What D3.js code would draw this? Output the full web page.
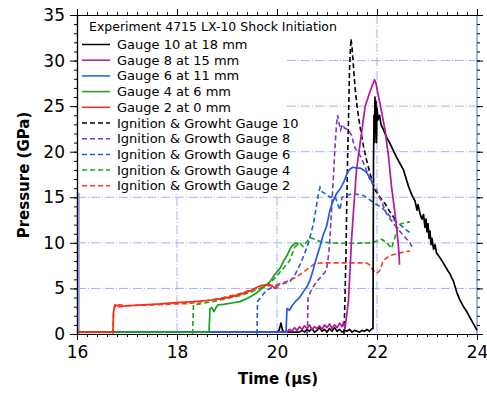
<!DOCTYPE html>
<html><head><meta charset="utf-8">
<script src="https://cdn.jsdelivr.net/npm/d3@7"></script>
<style>body{margin:0;background:#fff} svg{display:block}</style>
</head><body><svg id="c" width="487" height="393"></svg>
<script>
// ---------- data ----------
const xTicks = [16, 18, 20, 22, 24];
const yTicks = [0, 5, 10, 15, 20, 25, 30, 35];
const titleText = "Experiment 4715 LX-10 Shock Initiation";
const seriesNames = ["Gauge 10 at 18 mm", "Gauge 8 at 15 mm", "Gauge 6 at 11 mm", "Gauge 4 at 6 mm", "Gauge 2 at 0 mm",
  "Ignition & Growht Gauge 10", "Ignition & Growth Gauge 8", "Ignition & Growth Gauge 6", "Ignition & Growth Gauge 4", "Ignition & Growth Gauge 2"];

// Gauge 10 (measured)
const g10T = [16, 20.0, 20.04, 20.08, 20.11, 20.15, 20.45, 20.5, 20.55, 20.6, 20.65, 20.7, 20.75, 20.8, 20.85, 20.9, 20.95, 21.0, 21.05, 21.1, 21.15, 21.2, 21.25, 21.3, 21.35, 21.4, 21.45, 21.5, 21.55, 21.6, 21.65, 21.7, 21.75, 21.8, 21.85, 21.9, 21.92, 21.93, 21.94, 21.95, 21.96, 21.97, 21.98, 21.99, 22.0, 22.02, 22.05, 22.08, 22.13, 22.2, 22.26, 22.33, 22.39, 22.46, 22.53, 22.58, 22.63, 22.7, 22.76, 22.8, 22.82, 22.86, 22.9, 22.93, 22.96, 22.98, 23.0, 23.02, 23.04, 23.06, 23.08, 23.1, 23.13, 23.16, 23.19, 23.23, 23.28, 23.33, 23.38, 23.42, 23.46, 23.5, 23.53, 23.56, 23.6, 23.63, 23.66, 23.7, 23.74, 23.79, 23.84, 23.89, 23.94, 23.98, 24.0];
const g10P = [0.2, 0.2, 0.4, 1.2, 0.4, 0.2, 0.2, 0.4, 0.2, 0.5, 0.3, 0.6, 0.2, 0.4, 0.7, 0.3, 0.5, 0.2, 0.6, 0.3, 0.7, 0.3, 0.5, 0.2, 0.4, 0.3, 0.5, 0.2, 0.4, 0.3, 0.2, 0.4, 0.3, 0.5, 0.3, 0.6, 0.6, 19, 24, 21, 26, 22, 25.5, 21, 24.8, 23.5, 24, 23, 22.4, 21.5, 20.9, 20.1, 19.4, 18.7, 18.0, 17.1, 16.2, 15.2, 14.6, 13.6, 14.2, 13.2, 12.6, 13.1, 11.7, 12.6, 11.2, 12.1, 10.5, 11.3, 9.8, 10.5, 9.3, 9.8, 8.9, 8.6, 8.2, 7.75, 7.3, 6.9, 6.6, 6.1, 5.8, 5.2, 4.5, 4.1, 3.7, 3.3, 2.9, 2.5, 2.0, 1.5, 1.0, 0.6, 0.4];
// Gauge 8 (measured)
const g8T = [16, 20.2, 20.25, 20.3, 20.35, 20.4, 20.45, 20.5, 20.55, 20.6, 20.65, 20.7, 20.75, 20.8, 20.85, 20.9, 20.95, 21.0, 21.05, 21.1, 21.15, 21.2, 21.25, 21.3, 21.33, 21.36, 21.39, 21.43, 21.46, 21.49, 21.53, 21.59, 21.69, 21.76, 21.86, 21.95, 21.98, 22.02, 22.06, 22.16, 22.23, 22.29, 22.36, 22.41, 22.44, 22.45];
const g8P = [0.2, 0.2, 0.5, 0.3, 0.7, 0.4, 0.8, 0.5, 0.9, 0.6, 1.0, 0.5, 0.8, 0.6, 0.9, 0.5, 1.0, 0.7, 1.1, 0.6, 1.0, 0.7, 1.2, 0.8, 1.3, 0.6, 1.9, 3.7, 7.0, 10.3, 13.5, 18.0, 22.0, 24.9, 26.6, 27.9, 27.5, 26.3, 25.3, 22.4, 19.5, 16.2, 13.2, 10.7, 8.9, 7.6];
// Gauge 6 (measured)
const g6T = [16, 20.18, 20.2, 20.25, 20.3, 20.39, 20.45, 20.53, 20.6, 20.66, 20.72, 20.79, 20.86, 20.92, 20.99, 21.06, 21.13, 21.19, 21.26, 21.33, 21.4, 21.46, 21.52, 21.59, 21.66, 21.73, 21.79, 21.83, 21.88, 21.93];
const g6P = [0.2, 0.2, 2.8, 2.6, 3.1, 3.7, 4.0, 4.65, 5.2, 5.9, 7.0, 8.4, 9.6, 10.8, 11.8, 13.6, 14.7, 15.4, 15.9, 16.6, 17.6, 18.1, 18.3, 18.2, 18.2, 18.0, 17.7, 17.4, 16.9, 16.4];
// Gauge 4 (measured)
const g4T = [16, 18.64, 18.66, 18.7, 18.74, 18.78, 18.82, 18.93, 19.1, 19.26, 19.4, 19.5, 19.59, 19.7, 19.79, 19.86, 19.95, 20.06, 20.13, 20.19, 20.25, 20.29, 20.35, 20.4, 20.43];
const g4P = [0.2, 0.2, 2.8, 2.9, 2.45, 2.9, 3.2, 3.25, 3.4, 3.55, 3.9, 4.2, 4.5, 5.0, 5.4, 5.75, 6.5, 7.2, 8.0, 8.5, 9.2, 9.6, 9.9, 10.0, 9.8];
// Gauge 2 (measured)
const g2T = [16, 16.72, 16.73, 16.76, 16.85, 17.0, 17.33, 17.66, 18.0, 18.33, 18.66, 18.93, 19.1, 19.26, 19.45, 19.59, 19.69, 19.78, 19.86, 19.92, 19.96, 20.0, 20.03];
const g2P = [0.2, 0.2, 2.45, 3.2, 3.0, 3.1, 3.2, 3.3, 3.45, 3.55, 3.7, 3.9, 4.1, 4.35, 4.7, 5.1, 5.35, 5.4, 5.4, 5.2, 5.0, 5.1, 5.1];

// Ignition & Growth model
const ig10T = [21.34, 21.36, 21.38, 21.39, 21.41, 21.43, 21.45, 21.48, 21.5, 21.52, 21.56, 21.6, 21.66, 21.73, 21.79, 21.86, 21.96, 22.06, 22.16, 22.26, 22.36, 22.43];
const ig10P = [0, 4, 9, 12.5, 18.7, 23.5, 29, 32.4, 31.5, 30, 27.1, 25, 22.75, 20.6, 19.1, 17.6, 15.8, 15.0, 14.3, 13.4, 12.6, 12.5];
const ig8T = [20.6, 20.61, 20.62, 20.7, 20.8, 20.9, 20.99, 21.04, 21.08, 21.12, 21.16, 21.19, 21.21, 21.24, 21.27, 21.31, 21.35, 21.43, 21.49, 21.56, 21.66, 21.76, 21.86, 21.99, 22.09, 22.19, 22.33, 22.49, 22.66, 22.7];
const ig8P = [0, 0.5, 4.0, 5.0, 5.8, 6.4, 7.0, 9.0, 12.5, 16.5, 20.5, 23.0, 24.0, 23.2, 22.4, 23.0, 22.6, 22.4, 21.8, 20.4, 19.6, 18.4, 16.9, 15.8, 14.5, 13.2, 12.1, 11.05, 10.0, 9.6];
const ig6T = [19.6, 19.61, 19.7, 19.79, 19.9, 20.06, 20.26, 20.36, 20.46, 20.55, 20.63, 20.73, 20.83, 20.86, 20.9, 20.96, 21.06, 21.16, 21.22, 21.26, 21.3, 21.36, 21.53, 21.63, 21.73, 21.86, 21.96, 22.06, 22.19, 22.29, 22.46, 22.59, 22.69];
const ig6P = [0, 3.55, 4.2, 4.8, 5.1, 5.4, 5.75, 6.5, 7.6, 8.8, 10.0, 12.1, 15.4, 16.1, 15.6, 15.4, 15.0, 15.1, 14.2, 13.6, 15.0, 15.2, 15.4, 15.3, 15.2, 14.7, 14.3, 14.0, 13.4, 12.7, 12.0, 11.4, 11.0];
const ig4T = [18.31, 18.33, 18.5, 18.75, 19.0, 19.25, 19.5, 19.7, 19.85, 19.99, 20.06, 20.16, 20.26, 20.36, 20.46, 20.52, 20.58, 20.66, 20.79, 20.9, 21.06, 21.3, 21.6, 21.86, 22.0, 22.09, 22.2, 22.29, 22.36, 22.43, 22.55, 22.66];
const ig4P = [0, 3.2, 3.35, 3.6, 3.9, 4.2, 4.65, 5.1, 5.6, 6.3, 6.8, 7.4, 8.1, 9.6, 9.95, 9.6, 10.0, 10.6, 10.3, 10.1, 10.0, 9.95, 9.95, 10.0, 10.2, 10.4, 10.0, 9.4, 10.6, 12.0, 12.2, 12.3];
const ig2T = [16.72, 16.73, 16.78, 17.0, 17.5, 18.0, 18.26, 18.6, 18.93, 19.26, 19.59, 19.8, 19.99, 20.26, 20.4, 20.53, 20.65, 20.76, 20.9, 21.26, 21.6, 21.79, 21.85, 21.92, 21.99, 22.05, 22.13, 22.26, 22.45, 22.66];
const ig2P = [0, 2.6, 3.25, 3.1, 3.2, 3.3, 3.35, 3.65, 4.0, 4.45, 5.0, 5.25, 5.4, 5.9, 6.3, 6.8, 7.3, 7.75, 7.8, 7.8, 7.8, 7.8, 7.6, 7.0, 6.65, 6.9, 8.1, 8.6, 8.9, 9.1];

// ---------- chart ----------
const svg = d3.select("#c");
const x = d3.scaleLinear().domain([16, 24]).range([77, 477]);
const y = d3.scaleLinear().domain([0, 35]).range([334, 15]);
const gridCol = "#a9b0f6";
const font = "'DejaVu Sans', Verdana, sans-serif";

// grid
const grid = svg.append("g").attr("stroke", gridCol).attr("stroke-width", 1).attr("stroke-dasharray", "9,2,1,2");
[18, 20, 22].forEach(v => grid.append("line").attr("x1", x(v)).attr("x2", x(v)).attr("y1", y(35)).attr("y2", y(0)));
[5, 10, 15, 20, 25, 30].forEach(v => grid.append("line").attr("x1", x(16)).attr("x2", x(24)).attr("y1", y(v)).attr("y2", y(v)));
svg.append("line").attr("x1", x(16) + 2).attr("x2", x(16) + 2).attr("y1", y(35)).attr("y2", y(0)).attr("stroke", gridCol).attr("stroke-width", 2);
svg.append("line").attr("x1", x(24)).attr("x2", x(24)).attr("y1", y(35)).attr("y2", y(0)).attr("stroke", gridCol).attr("stroke-width", 2);

// legend background
svg.append("rect").attr("x", x(16) + 1).attr("y", y(35) + 1).attr("width", 207).attr("height", 177).attr("fill", "#fff");

// series
const solidSeries = [
  {t: g10T, p: g10P, c: "#000000"},
  {t: g8T, p: g8P, c: "#b5189c"},
  {t: g6T, p: g6P, c: "#1c5ee8"},
  {t: g4T, p: g4P, c: "#1aa31a"},
  {t: g2T, p: g2P, c: "#ff2a10"}
];
const dashSeries = [
  {t: ig10T, p: ig10P, c: "#000000"},
  {t: ig8T, p: ig8P, c: "#7b35c9"},
  {t: ig6T, p: ig6P, c: "#1c5ee8"},
  {t: ig4T, p: ig4P, c: "#1aa31a"},
  {t: ig2T, p: ig2P, c: "#ff3a1a"}
];
const line = d3.line().x(d => x(d[0])).y(d => y(d[1]));
const plot = svg.append("g");
dashSeries.forEach(s => {
  plot.append("path").attr("d", line(s.t.map((v, i) => [v, s.p[i]])))
    .attr("fill", "none").attr("stroke", s.c).attr("stroke-width", 1.6).attr("stroke-dasharray", "5,3");
});
solidSeries.forEach(s => {
  plot.append("path").attr("d", line(s.t.map((v, i) => [v, s.p[i]])))
    .attr("fill", "none").attr("stroke", s.c).attr("stroke-width", 1.7).attr("stroke-linejoin", "round");
});

// axes
function styleAxis(g, labels) {
  g.select(".domain").attr("stroke", "#000").attr("stroke-width", 1.2);
  g.selectAll(".tick line").attr("stroke", "#000");
  if (labels) g.selectAll(".tick text").attr("font-family", font).attr("font-size", 17).attr("fill", "#000");
  else g.selectAll(".tick text").remove();
}
const minorX = d3.range(16, 24.001, 0.2);
const minorY = d3.range(0, 35.001, 1);
svg.append("g").attr("transform", `translate(0,${y(0)})`).call(d3.axisBottom(x).tickValues(minorX).tickSize(3).tickSizeOuter(0).tickFormat("")).call(g => styleAxis(g, false));
svg.append("g").attr("transform", `translate(0,${y(35)})`).call(d3.axisTop(x).tickValues(minorX).tickSize(3).tickSizeOuter(0).tickFormat("")).call(g => styleAxis(g, false));
svg.append("g").attr("transform", `translate(${x(16)},0)`).call(d3.axisLeft(y).tickValues(minorY).tickSize(3).tickSizeOuter(0).tickFormat("")).call(g => styleAxis(g, false));
svg.append("g").attr("transform", `translate(${x(24)},0)`).call(d3.axisRight(y).tickValues(minorY).tickSize(3).tickSizeOuter(0).tickFormat("")).call(g => { styleAxis(g, false); g.select(".domain").remove(); });
svg.append("g").attr("transform", `translate(0,${y(0)})`).call(d3.axisBottom(x).tickValues(xTicks).tickSize(6).tickSizeOuter(0).tickPadding(6).tickFormat(d3.format("d"))).call(g => styleAxis(g, true));
svg.append("g").attr("transform", `translate(0,${y(35)})`).call(d3.axisTop(x).tickValues(xTicks).tickSize(6).tickSizeOuter(0).tickFormat("")).call(g => styleAxis(g, false));
svg.append("g").attr("transform", `translate(${x(16)},0)`).call(d3.axisLeft(y).tickValues(yTicks).tickSize(7).tickSizeOuter(0).tickPadding(5).tickFormat(d3.format("d"))).call(g => styleAxis(g, true));
svg.append("g").attr("transform", `translate(${x(24)},0)`).call(d3.axisRight(y).tickValues(yTicks).tickSize(6).tickSizeOuter(0).tickFormat("")).call(g => { styleAxis(g, false); g.select(".domain").remove(); });

// axis titles
svg.append("text").attr("x", 278).attr("y", 384).attr("text-anchor", "middle")
  .attr("font-family", font).attr("font-size", 15).attr("font-weight", "bold").text("Time (μs)");
svg.append("text").attr("transform", "translate(29,175) rotate(-90)").attr("text-anchor", "middle")
  .attr("font-family", font).attr("font-size", 15).attr("font-weight", "bold").text("Pressure (GPa)");

// legend
svg.append("text").attr("x", 89).attr("y", 30.5).attr("font-family", font).attr("font-size", 12.5).text(titleText);
const legendItems = solidSeries.concat(dashSeries);
legendItems.forEach((s, i) => {
  const cy = 44.5 + i * 15.7;
  svg.append("line").attr("x1", 82).attr("x2", 110).attr("y1", cy).attr("y2", cy)
    .attr("stroke", s.c).attr("stroke-width", 1.5).attr("stroke-dasharray", i >= 5 ? "5,3" : null);
  svg.append("text").attr("x", 117).attr("y", cy + 4.5).attr("font-family", font).attr("font-size", 13).text(seriesNames[i]);
});
</script></body></html>
